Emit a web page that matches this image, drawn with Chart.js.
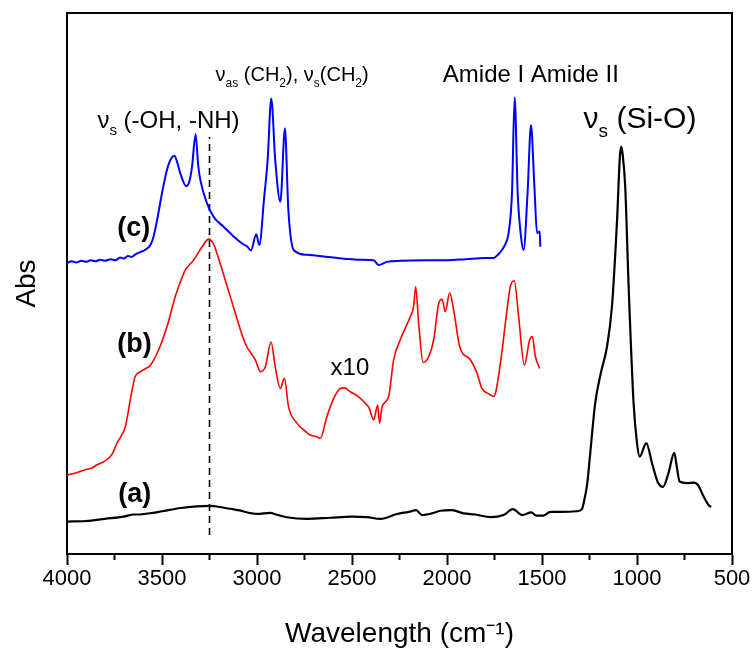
<!DOCTYPE html>
<html>
<head>
<meta charset="utf-8">
<script src="https://cdn.jsdelivr.net/npm/chart.js@4.4.1/dist/chart.umd.min.js"></script>
<style>
  html, body { margin: 0; padding: 0; background: #fff; }
  #wrap { width: 753px; height: 655px; }
</style>
</head>
<body>
<div id="wrap"><canvas id="ftir" width="753" height="655"></canvas></div>
<script>
// ----- data (wavenumber in cm-1, absorbance in arbitrary units 0-100) -----
const xTicks = [4000, 3500, 3000, 2500, 2000, 1500, 1000, 500];

// (a) black
const wnA = [4000, 3900, 3800, 3700, 3650, 3632, 3550, 3500, 3400, 3320, 3250, 3180, 3100, 3000, 2930, 2900,
  2843, 2737, 2614, 2503, 2420, 2351, 2263, 2200, 2162, 2132, 2080, 2035, 1974, 1912, 1850, 1772, 1702,
  1653, 1605, 1556, 1530, 1492, 1456, 1400, 1316, 1290, 1281, 1262, 1246, 1220, 1190, 1158, 1132, 1105,
  1090, 1083, 1076, 1062, 1044, 1018, 1000, 986, 951, 921, 890, 863, 834, 804, 790, 776, 737, 700, 680,
  649, 620, 610];
const absA = [6.0, 6.1, 6.5, 6.9, 7.3, 7.3, 7.6, 7.9, 8.5, 8.8, 8.9, 8.6, 8.1, 7.4, 7.6, 7.3,
  6.8, 6.5, 6.7, 6.9, 6.8, 6.5, 7.4, 7.8, 8.1, 7.2, 7.5, 8.0, 8.1, 7.5, 7.3, 6.8, 7.2,
  8.3, 7.2, 7.7, 7.1, 7.1, 7.8, 7.8, 7.9, 8.3, 9.4, 13.0, 18.7, 27.9, 33.5, 38.3, 45.7, 61.7,
  73.5, 75.3, 74.0, 67.9, 49.4, 27.9, 20.5, 18.0, 20.5, 16.8, 13.2, 12.4, 15.0, 18.7, 16.0, 13.4, 13.1, 13.2, 12.8,
  10.6, 8.9, 8.7];

// (b) red, x10
const wnB = [4000, 3950, 3900, 3870, 3842, 3810, 3781, 3760, 3737, 3715, 3693, 3680, 3667, 3641, 3614, 3590,
  3561, 3518, 3474, 3430, 3400, 3377, 3334, 3289, 3254, 3230, 3211, 3167, 3114, 3062, 3009, 2982,
  2956, 2926, 2904, 2877, 2856, 2834, 2790, 2750, 2720, 2690, 2667, 2632, 2600, 2562, 2540, 2509,
  2470, 2439, 2410, 2386, 2365, 2355, 2342, 2307, 2281, 2246, 2193, 2176, 2165, 2149, 2126, 2096,
  2070, 2044, 2026, 2009, 1986, 1965, 1933, 1877, 1842, 1816, 1780, 1754, 1719, 1693, 1667, 1646,
  1623, 1593, 1565, 1551, 1535, 1512];
const absB = [14.6, 15.0, 15.6, 15.9, 16.5, 17.0, 17.7, 18.6, 20.5, 21.8, 23.5, 25.8, 28.5, 32.8, 33.7, 34.2,
  34.9, 37.7, 42.0, 47.6, 50.6, 52.5, 54.3, 56.8, 58.2, 57.4, 55.6, 50.6, 44.5, 38.9, 35.9, 33.7,
  34.6, 39.2, 34.6, 30.6, 32.5, 27.2, 24.2, 22.8, 22.0, 21.7, 21.4, 25.4, 28.5, 30.6, 30.7, 30.0,
  29.2, 28.2, 27.0, 24.8, 27.5, 24.2, 27.2, 29.1, 35.9, 39.6, 43.9, 45.7, 49.4, 42.6, 35.4, 36.5,
  39.6, 46.3, 47.1, 44.8, 48.3, 45.1, 38.3, 35.9, 33.4, 30.6, 29.6, 29.1, 35.2, 42.6, 49.4, 50.5,
  43.9, 34.9, 39.6, 40.2, 36.5, 34.3];

// (c) blue
const wnC = [4000, 3975, 3950, 3925, 3900, 3875, 3850, 3825, 3800, 3772, 3745, 3720, 3700, 3680, 3660, 3640,
  3614, 3590, 3561, 3545, 3526, 3500, 3474, 3450, 3435, 3420, 3404, 3372, 3355, 3342, 3323, 3310, 3298,
  3263, 3228, 3176, 3123, 3074, 3050, 3032, 3004, 2988, 2962, 2944, 2925, 2904, 2877, 2853, 2835,
  2807, 2737, 2600, 2450, 2386, 2360, 2316, 2246, 2100, 2000, 1900, 1800, 1755, 1730, 1711, 1690, 1676, 1658,
  1644, 1628, 1610, 1597, 1576, 1558, 1540, 1526, 1512, 1509];
const absC = [53.8, 54.1, 53.9, 54.2, 54.0, 54.3, 54.1, 54.4, 54.2, 54.5, 54.3, 54.8, 54.6, 55.1, 54.9, 55.4,
  55.8, 56.2, 57.1, 58.6, 61.7, 66.7, 71.0, 73.2, 73.6, 72.4, 70.4, 68.0, 69.0, 71.6, 77.6, 72.0, 69.1,
  64.8, 62.3, 60.5, 58.7, 57.3, 56.8, 56.1, 59.1, 57.1, 66.0, 72.8, 84.2, 72.8, 65.1, 78.7, 63.6,
  56.2, 55.3, 54.8, 54.4, 54.3, 53.4, 54.0, 54.2, 54.3, 54.3, 54.5, 54.7, 54.7, 55.4, 56.2, 57.5, 59.3, 66.7,
  84.4, 66.7, 58.5, 56.2, 66.7, 79.3, 67.9, 59.3, 59.6, 56.8];

// dashed marker at 3250 cm-1
const markerWn = [3250, 3250];
const markerAbs = [3.5, 77.1];

// annotation text, anchored in data units
const labels = [
  { wn: 3840, abs: 78.7, size: 24, parts: [["ν", 0], ["s", 1], [" (-OH, -NH)", 0]] },
  { wn: 3218, abs: 87.5, size: 20, parts: [["ν", 0], ["as", 1], [" (CH", 0], ["2", 1], ["), ν", 0], ["s", 1], ["(CH", 0], ["2", 1], [")", 0]] },
  { wn: 2022, abs: 87.3, size: 24, parts: [["Amide I Amide II", 0]] },
  { wn: 1281, abs: 78.7, size: 30, parts: [["ν", 0], ["s", 1], [" (Si-O)", 0]] },
  { wn: 3735, abs: 58.8, size: 27, bold: true, parts: [["(c)", 0]] },
  { wn: 3735, abs: 37.4, size: 27, bold: true, parts: [["(b)", 0]] },
  { wn: 3730, abs: 9.7, size: 27, bold: true, parts: [["(a)", 0]] },
  { wn: 2613, abs: 33.0, size: 24, parts: [["x10", 0]] }
];

const FONT = "'Liberation Sans', Arial, sans-serif";

function toPoints(xs, ys) {
  return xs.map((x, i) => ({ x: x, y: ys[i] }));
}

// frame, minor ticks and annotations
const decorPlugin = {
  id: "decor",
  afterDraw(chart) {
    const ctx = chart.ctx;
    const area = chart.chartArea;
    const xs = chart.scales.x;
    const ys = chart.scales.y;
    ctx.save();
    ctx.strokeStyle = "#000";
    ctx.lineWidth = 2;
    ctx.beginPath();
    ctx.moveTo(area.left, area.top);
    ctx.lineTo(area.right, area.top);
    ctx.lineTo(area.right, area.bottom);
    ctx.stroke();

    // minor ticks every 250
    for (let w = 3750; w > 500; w -= 500) {
      const px = xs.getPixelForValue(w);
      ctx.beginPath();
      ctx.moveTo(px, area.bottom);
      ctx.lineTo(px, area.bottom + 6);
      ctx.stroke();
    }

    ctx.fillStyle = "#000";
    ctx.textBaseline = "alphabetic";
    ctx.textAlign = "left";
    labels.forEach(lb => {
      let px = xs.getPixelForValue(lb.wn);
      const py = ys.getPixelForValue(lb.abs);
      lb.parts.forEach(([txt, sub]) => {
        const size = sub ? Math.round(lb.size * 0.62) : lb.size;
        ctx.font = (lb.bold ? "bold " : "") + size + "px " + FONT;
        ctx.fillText(txt, px, sub ? py + lb.size * 0.3 : py);
        px += ctx.measureText(txt).width;
      });
    });
    ctx.restore();
  }
};

const ctx = document.getElementById("ftir");

const chart = new Chart(ctx, {
  type: "line",
  data: {
    datasets: [
      {
        label: "(c)",
        data: toPoints(wnC, absC),
        borderColor: "#0000ff",
        borderWidth: 2,
        pointRadius: 0,
        cubicInterpolationMode: "monotone"
      },
      {
        label: "(b)",
        data: toPoints(wnB, absB),
        borderColor: "#ff0000",
        borderWidth: 1.6,
        pointRadius: 0,
        cubicInterpolationMode: "monotone"
      },
      {
        label: "(a)",
        data: toPoints(wnA, absA),
        borderColor: "#000000",
        borderWidth: 2.2,
        pointRadius: 0,
        cubicInterpolationMode: "monotone"
      },
      {
        label: "marker",
        data: toPoints(markerWn, markerAbs),
        borderColor: "#000000",
        borderWidth: 1.6,
        borderDash: [7, 5],
        pointRadius: 0
      }
    ]
  },
  options: {
    responsive: false,
    animation: false,
    events: [],
    layout: {
      padding: { top: 13, right: 21, left: 0, bottom: 0 }
    },
    plugins: {
      legend: { display: false },
      tooltip: { enabled: false }
    },
    scales: {
      x: {
        type: "linear",
        reverse: true,
        min: 500,
        max: 4000,
        afterFit: s => { s.height = 101; },
        afterBuildTicks: s => { s.ticks = xTicks.map(v => ({ value: v })); },
        ticks: {
          color: "#000",
          padding: 1,
          maxRotation: 0,
          autoSkip: false,
          callback: v => String(v),
          font: { family: FONT, size: 22 }
        },
        grid: {
          drawOnChartArea: false,
          drawTicks: true,
          tickLength: 11,
          tickWidth: 2,
          tickColor: "#000"
        },
        border: { color: "#000", width: 2 },
        title: {
          display: true,
          text: "Wavelength (cm⁻¹)",
          color: "#000",
          padding: { top: 0, bottom: 4 },
          font: { family: FONT, size: 28 }
        }
      },
      y: {
        min: 0,
        max: 100,
        afterFit: s => { s.width = 67; },
        ticks: { display: false },
        grid: { display: false },
        border: { color: "#000", width: 2 },
        title: {
          display: true,
          text: "Abs",
          color: "#000",
          padding: { top: 10, bottom: 0 },
          font: { family: FONT, size: 28 }
        }
      }
    }
  },
  plugins: [decorPlugin]
});
</script>
</body>
</html>
